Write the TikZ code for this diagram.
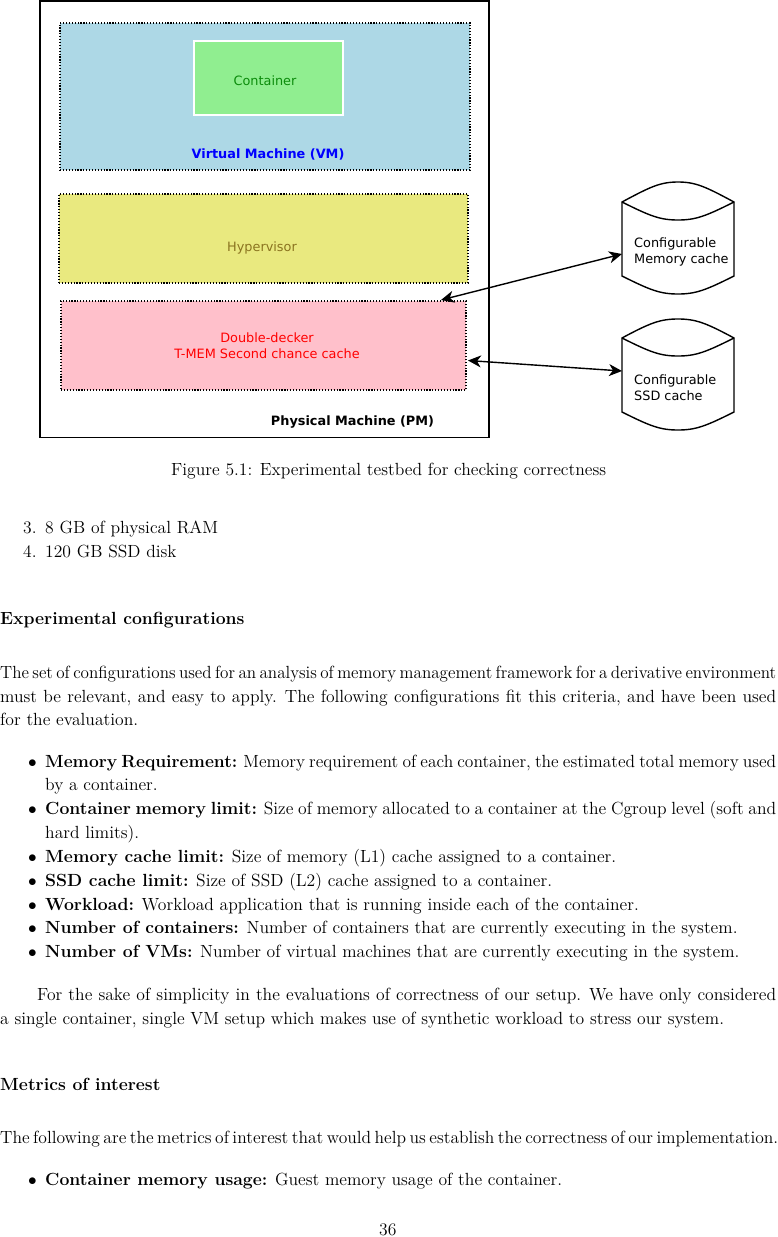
\documentclass[tikz,border=0pt]{standalone}
\usepackage{fontspec}
\usepackage{graphicx}
\usetikzlibrary{arrows.meta}
\setmainfont{lmroman12-regular}[Extension=.otf,BoldFont=lmroman12-bold,ItalicFont=lmroman12-italic]
\newfontfamily\diagfont{DejaVu Sans}
\newcommand{\jl}[2]{\hbox to #1{\spaceskip=.33em plus 1em minus .2em\relax #2}}
\newcommand{\jlx}[3]{\resizebox{#1}{\height}{\spaceskip=#2\relax #3}}
\definecolor{vmblue}{HTML}{ADD8E6}
\definecolor{ctgreen}{HTML}{90EE90}
\definecolor{hvkhaki}{HTML}{E9E97F}
\definecolor{dmpink}{HTML}{FFC0CB}
\definecolor{hvtext}{HTML}{8B7420}
\definecolor{cttext}{HTML}{0C8C0C}
\tikzset{
  box/.style={rectangle,inner sep=0pt,outer sep=0pt,anchor=north west},
  layer/.style={box,draw=black,line width=1.5pt,dash pattern=on 1.2pt off 1.7pt},
  dlabel/.style={inner sep=0pt,font=\diagfont\fontsize{12.85}{16}\selectfont},
  boldlabel/.style={dlabel,font=\diagfont\bfseries\fontsize{12.85}{16}\selectfont},
  body/.style={anchor=base west,inner sep=0pt,font=\fontsize{17.6}{20}\selectfont},
  cyl/.style={draw=black,line width=1.4pt,fill=white},
  link/.style={draw=black,line width=1.4pt,{Stealth[length=13pt,width=12pt,inset=4pt]}-{Stealth[length=13pt,width=12pt,inset=4pt]}}
}
\begin{document}
\begin{tikzpicture}[x=1pt,y=-1pt]
\useasboundingbox (0,0) rectangle (778,1237);
\node[box,draw=black,line width=1.8pt,minimum width=449pt,minimum height=436.5pt] (pm) at (40,1) {};
\node[layer,fill=vmblue,minimum width=410pt,minimum height=147pt] (vm) at (60,23) {};
\node[box,fill=ctgreen,draw=white,line width=1.5pt,minimum width=149pt,minimum height=74pt] (ct) at (194,41) {};
\node[layer,fill=hvkhaki,minimum width=409pt,minimum height=89pt] (hv) at (59,194) {};
\node[layer,fill=dmpink,minimum width=405pt,minimum height=89pt] (dd) at (61,301) {};
\node[dlabel,text=cttext] (ctl) at (265,80.5) {Container};
\node[boldlabel,text=blue] (vml) at (268,154) {Virtual Machine (VM)};
\node[dlabel,text=hvtext] (hvl) at (262,247.5) {Hypervisor};
\node[dlabel,text=red,align=center] (ddl) at (267,345.5) {Double-decker\\T-MEM Second chance cache};
\node[boldlabel,text=black] (pml) at (352.5,421.5) {Physical Machine (PM)};
% cylinders
\draw[cyl] (622,202) .. controls (650,187) and (660,182) .. (678,182) .. controls (696,182) and (706,187) .. (734,202) -- (734,276) .. controls (706,290) and (696,294) .. (678,294) .. controls (660,294) and (650,290) .. (622,276) -- cycle;
\draw[cyl] (622,202) .. controls (650,216) and (660,220) .. (678,220) .. controls (696,220) and (706,216) .. (734,202);
\draw[cyl] (622,338) .. controls (650,323) and (660,319) .. (678,319) .. controls (696,319) and (706,323) .. (734,338) -- (734,412) .. controls (706,426) and (696,430) .. (678,430) .. controls (660,430) and (650,426) .. (622,412) -- cycle;
\draw[cyl] (622,338) .. controls (650,352) and (660,356) .. (678,356) .. controls (696,356) and (706,352) .. (734,338);
\node[dlabel,anchor=west,align=left] (mc) at (634,252) {Configurable\\Memory cache};
\node[dlabel,anchor=west,align=left] (sc) at (634,388) {Configurable\\SSD cache};
\coordinate (mcport) at (622,254);
\coordinate (scport) at (622,371);
\coordinate (ddtop) at (441,300);
\coordinate (ddright) at (468,360.5);
\draw[link] (ddtop) -- (mcport);
\draw[link] (ddright) -- (scport);
% page text
\node[body] (cap) at (171,475) {Figure 5.1: Experimental testbed for checking correctness};
\node[body] (n3) at (23,533) {3.};
\node[body] (t3) at (45,533) {8 GB of physical RAM};
\node[body] (n4) at (23,557) {4.};
\node[body] (t4) at (45,557) {120 GB SSD disk};
\node[body] (h1) at (0,624) {\bfseries Experimental configurations};
\node[body] (p1a) at (0,678) {\jlx{776pt}{.2em}{The set of configurations used for an analysis of memory management framework for a derivative environment}};
\node[body] (p1b) at (0,702) {\jl{776pt}{must be relevant, and easy to apply.\hskip 8pt The following configurations fit this criteria, and have been used}};
\node[body] (p1c) at (0,725) {for the evaluation.};
\node[body] (b1) at (28,767) {$\bullet$};
\node[body] (i1a) at (45,767) {\jlx{731pt}{.24em}{\textbf{Memory Requirement:} Memory requirement of each container, the estimated total memory used}};
\node[body] (i1b) at (45,790) {by a container.};
\node[body] (b2) at (28,814) {$\bullet$};
\node[body] (i2a) at (45,814) {\jlx{731pt}{.27em}{\textbf{Container memory limit:} Size of memory allocated to a container at the Cgroup level (soft and}};
\node[body] (i2b) at (45,838) {hard limits).};
\node[body] (b3) at (28,862) {$\bullet$};
\node[body] (i3) at (45,862) {\textbf{Memory cache limit:} Size of memory (L1) cache assigned to a container.};
\node[body] (b4) at (28,886) {$\bullet$};
\node[body] (i4) at (45,886) {\textbf{SSD cache limit:} Size of SSD (L2) cache assigned to a container.};
\node[body] (b5) at (28,910) {$\bullet$};
\node[body] (i5) at (45,910) {\textbf{Workload:} Workload application that is running inside each of the container.};
\node[body] (b6) at (28,933) {$\bullet$};
\node[body] (i6) at (45,933) {\textbf{Number of containers:} Number of containers that are currently executing in the system.};
\node[body] (b7) at (28,957) {$\bullet$};
\node[body] (i7) at (45,957) {\textbf{Number of VMs:} Number of virtual machines that are currently executing in the system.};
\node[body] (p2a) at (37,1000) {\jl{739pt}{For the sake of simplicity in the evaluations of correctness of our setup.\hskip 8pt We have only considered}};
\node[body] (p2b) at (0,1024) {a single container, single VM setup which makes use of synthetic workload to stress our system.};
\node[body] (h2) at (0,1090) {\bfseries Metrics of interest};
\node[body] (p3) at (0,1143) {\jlx{778pt}{.2em}{The following are the metrics of interest that would help us establish the correctness of our implementation.}};
\node[body] (b8) at (28,1185) {$\bullet$};
\node[body] (i8) at (45,1185) {\textbf{Container memory usage:} Guest memory usage of the container.};
\node[body] (pg) at (379,1235.5) {36};
\end{tikzpicture}
\end{document}
